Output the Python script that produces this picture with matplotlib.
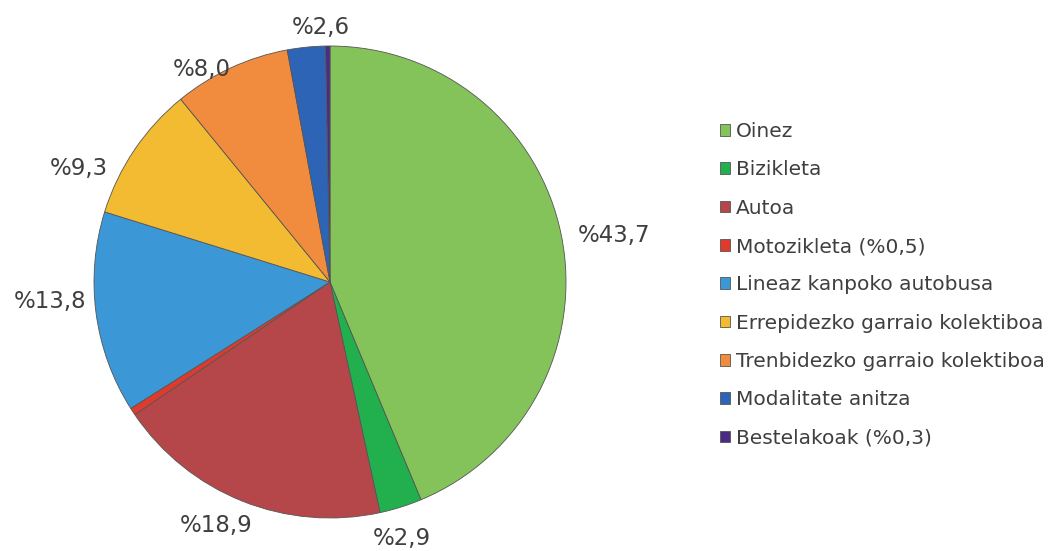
import matplotlib
matplotlib.use("Agg")
import numpy as np
import matplotlib.pyplot as plt

# joan-etorri moduak (%)
modes = ["Oinez", "Bizikleta", "Autoa", "Motozikleta (%0,5)",
         "Lineaz kanpoko autobusa", "Errepidezko garraio kolektiboa",
         "Trenbidezko garraio kolektiboa", "Modalitate anitza",
         "Bestelakoak (%0,3)"]
shares = [43.7, 2.9, 18.9, 0.5, 13.8, 9.3, 8.0, 2.6, 0.3]
slice_labels = ["%43,7", "%2,9", "%18,9", "", "%13,8", "%9,3", "%8,0", "%2,6", ""]
colors = ["#84c25a", "#22b04e", "#b5474b", "#e03a2d", "#3b97d6",
          "#f2bb31", "#f18b3e", "#2e64b5", "#4a2c85"]

# label layout: radial factor and angular nudge (deg) per slice
label_dist = [1.22, 1.13, 1.14, 1.0, 1.19, 1.17, 1.05, 1.08, 1.0]
label_nudge = [-2.1, -1.9, -3.2, 0, -3.6, 9.7, 6.2, -3.8, 0]

W, H = 1052, 551
fig = plt.figure(figsize=(W / 100, H / 100), dpi=100)
ax = fig.add_axes([0, 0, 1, 1])

cx, cy, r = 330, H - 282, 236
wedges, _ = ax.pie(shares, colors=colors, startangle=90, counterclock=False,
                   center=(cx, cy), radius=r, frame=True,
                   wedgeprops=dict(edgecolor="#555555", linewidth=0.6))
ax.set_xlim(0, W)
ax.set_ylim(0, H)
ax.axis("off")

for w, lab, k, nd in zip(wedges, slice_labels, label_dist, label_nudge):
    if not lab:
        continue
    th = np.deg2rad((w.theta1 + w.theta2) / 2 + nd)
    ax.text(cx + k * r * np.cos(th), cy + k * r * np.sin(th), lab,
            ha="center", va="center", fontsize=16.5, color="#3f3f3f")

leg = ax.legend(wedges, modes, loc="upper left", bbox_to_anchor=(712 / W, 1 - 114 / H),
                frameon=False, fontsize=14.5, handlelength=0.5, handleheight=0.5,
                handletextpad=0.3, labelspacing=0.96, borderaxespad=0)
for t in leg.get_texts():
    t.set_color("#3f3f3f")

fig.savefig("out.png", dpi=100)
